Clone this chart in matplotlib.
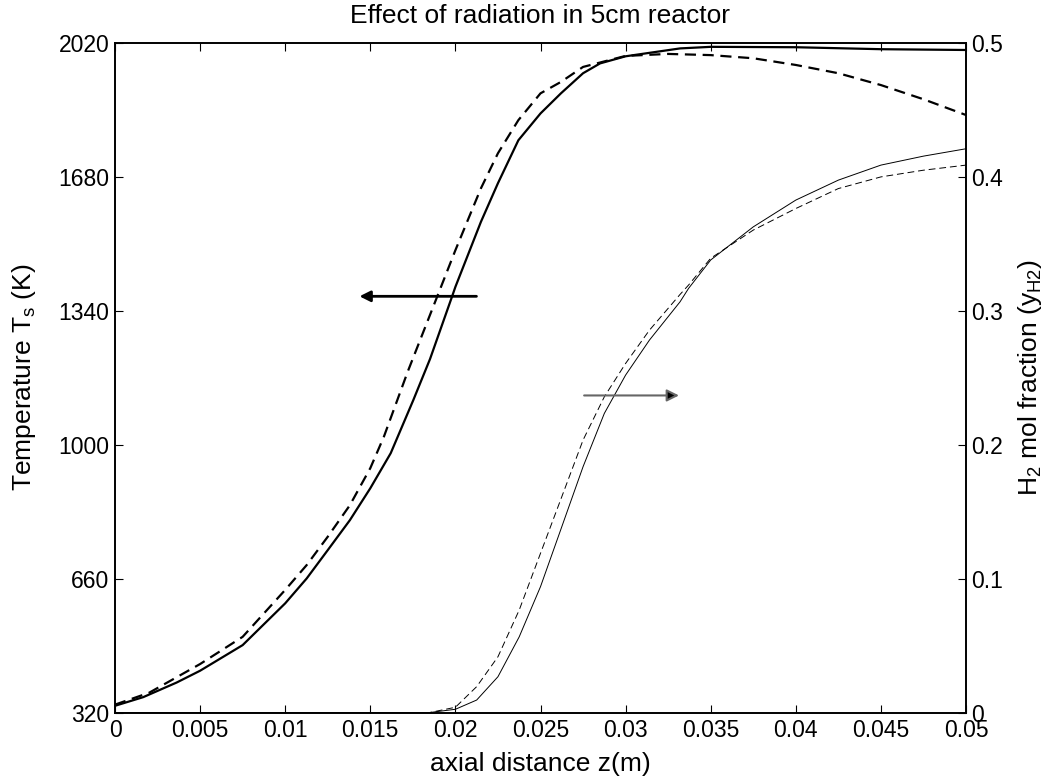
import numpy as np
import matplotlib
matplotlib.use("Agg")
import matplotlib.pyplot as plt

plt.rcParams['font.family'] = ['Liberation Sans', 'DejaVu Sans']
plt.rcParams['mathtext.fontset'] = 'custom'
plt.rcParams['mathtext.rm'] = 'Liberation Sans'
plt.rcParams['mathtext.it'] = 'Liberation Sans'

# Surface temperature (left axis), with radiation (solid) / without (dashed)
z_T_solid = [0, 0.00166, 0.00362, 0.005, 0.0075, 0.01, 0.01126, 0.0125, 0.0138, 0.015,
             0.0162, 0.01753, 0.01851, 0.0198, 0.02, 0.0215, 0.0225, 0.0237, 0.025,
             0.0262, 0.0275, 0.0285, 0.03, 0.0332, 0.035, 0.04, 0.045, 0.05]
T_solid = [337, 359, 396, 426, 491, 597, 660, 732, 808, 889,
           978, 1113, 1217, 1375, 1400, 1565, 1663, 1772, 1840,
           1891, 1942, 1967, 1985, 2005, 2009, 2008, 2003, 2001]

z_T_dash = [0, 0.002, 0.005, 0.0075, 0.01, 0.01126, 0.0125, 0.0138, 0.015, 0.0158,
            0.0172, 0.0187, 0.02, 0.0215, 0.0225, 0.0237, 0.025, 0.0262, 0.0275,
            0.03, 0.0325, 0.035, 0.0375, 0.04, 0.0425, 0.045, 0.0475, 0.05]
T_dash = [340, 370, 443, 512, 631, 694, 766, 846, 940, 1020,
          1185, 1350, 1493, 1650, 1739, 1823, 1891, 1920, 1958,
          1986, 1991, 1988, 1980, 1963, 1942, 1912, 1876, 1836]

# H2 mole fraction (right axis)
z_H = [0, 0.0185, 0.02, 0.02125, 0.0225, 0.02375, 0.025, 0.02625, 0.0275, 0.02875,
       0.03, 0.0314, 0.0332, 0.0337, 0.035, 0.0375, 0.04, 0.0425, 0.045, 0.0475, 0.05]
H_solid = [0, 0, 0.0024, 0.0093, 0.0267, 0.0565, 0.0939, 0.1386, 0.1834, 0.2232,
           0.2518, 0.2779, 0.3065, 0.3165, 0.3377, 0.3624, 0.3824, 0.3973, 0.4085, 0.4152, 0.4207]
H_dash = [0, 0, 0.0039, 0.0193, 0.0416, 0.0765, 0.1188, 0.161, 0.2033, 0.2356,
          0.2605, 0.2853, 0.312, 0.319, 0.339, 0.36, 0.3761, 0.391, 0.3997, 0.4047, 0.4085]

x_ticks = [0, 0.005, 0.01, 0.015, 0.02, 0.025, 0.03, 0.035, 0.04, 0.045, 0.05]
x_labels = ['0', '0.005', '0.01', '0.015', '0.02', '0.025', '0.03', '0.035', '0.04', '0.045', '0.05']
T_ticks = [320, 660, 1000, 1340, 1680, 2020]
H_ticks = [0, 0.1, 0.2, 0.3, 0.4, 0.5]
H_labels = ['0', '0.1', '0.2', '0.3', '0.4', '0.5']

tick_fs = 16.5
lab_fs = 19
fig = plt.figure(figsize=(10.49, 7.78), dpi=100)
ax = fig.add_axes([115/1049, 1 - 712.5/778, 851/1049, 670/778])
ax2 = ax.twinx()

ax.plot(z_T_solid, T_solid, color='k', lw=1.6)
ax.plot(z_T_dash, T_dash, color='k', lw=1.6, ls=(0, (5, 3)))
ax2.plot(z_H, H_solid, color='k', lw=0.7)
ax2.plot(z_H, H_dash, color='k', lw=0.7, ls=(0, (7, 4)))

ax.set_xlim(0, 0.05)
ax.set_ylim(320, 2020)
ax2.set_ylim(0, 0.5)
ax.set_xticks(x_ticks)
ax.set_xticklabels(x_labels)
ax.set_yticks(T_ticks)
ax2.set_yticks(H_ticks)
ax2.set_yticklabels(H_labels)

for a in (ax, ax2):
    a.tick_params(direction='in', length=6, width=0.8, labelsize=tick_fs, pad=4)
    for s in a.spines.values():
        s.set_linewidth(1.2)
ax.tick_params(axis='x', top=True, pad=5)

# arrows pointing to the axis each group belongs to
ax.annotate('', xy=(0.0142, 1376), xytext=(0.0214, 1376),
            arrowprops=dict(arrowstyle='-|>', color='k', lw=2, mutation_scale=16))
ax2.annotate('', xy=(0.0333, 0.2366), xytext=(0.0274, 0.2366),
             arrowprops=dict(arrowstyle='-|>', color='#666666', lw=1.5,
                             mutation_scale=18, fc='k', ec='#666666'))

ax.set_title('Effect of radiation in 5cm reactor', fontsize=lab_fs, pad=14)
ax.set_xlabel('axial distance z(m)', fontsize=lab_fs, labelpad=7)
ax.set_ylabel(r'Temperature T$_\mathregular{s}$ (K)', fontsize=lab_fs, labelpad=15)
ax2.set_ylabel(r'H$_\mathregular{2}$ mol fraction (y$_\mathregular{H2}$)', fontsize=lab_fs, labelpad=9)

fig.savefig('out.png', dpi=100)
